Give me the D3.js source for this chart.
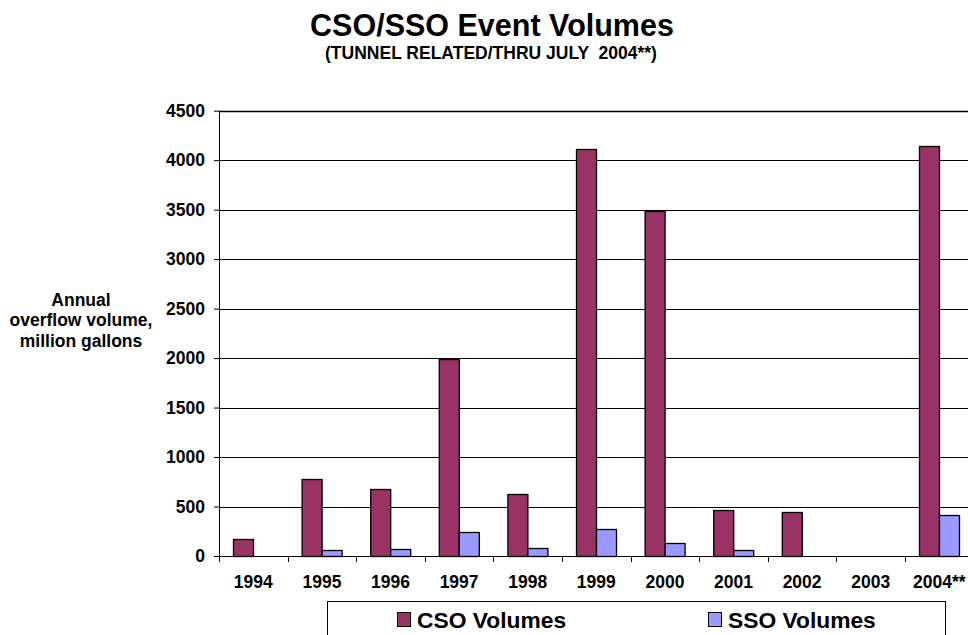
<!DOCTYPE html>
<html>
<head>
<meta charset="utf-8">
<script src="https://cdn.jsdelivr.net/npm/d3@7"></script>
<style>
  html, body { margin: 0; padding: 0; background: #fff; }
  svg { display: block; font-family: "Liberation Sans", Arial, sans-serif; font-weight: bold; }
</style>
</head>
<body>
<svg id="chart" width="968" height="635"></svg>
<script>
// ---- data ----
const categories = ["1994","1995","1996","1997","1998","1999","2000","2001","2002","2003","2004**"];
const csoVolumes = [170, 775, 675, 1990, 630, 4110, 3490, 465, 440, 0, 4145];
const ssoVolumes = [0, 60, 68, 245, 80, 273, 128, 58, 0, 0, 418];
const seriesNames = ["CSO Volumes", "SSO Volumes"];
const yTicks = [0, 500, 1000, 1500, 2000, 2500, 3000, 3500, 4000, 4500];
const titleText = "CSO/SSO Event Volumes";
const subtitleText = "(TUNNEL RELATED/THRU JULY  2004**)";
const yLabelLines = ["Annual", "overflow volume,", "million gallons"];

// ---- layout ----
const plot = { left: 219, right: 973.6, top: 110.7, bottom: 556 };
const colors = { "CSO Volumes": "#993366", "SSO Volumes": "#9999FF" };

const svg = d3.select("#chart");
svg.append("rect").attr("width", 968).attr("height", 635).attr("fill", "#fff");

const x0 = d3.scaleBand().domain(categories).range([plot.left, plot.right]).padding(0);
const x1 = d3.scaleBand().domain(seriesNames).range([0, x0.bandwidth()]).paddingInner(0).paddingOuter(0.715);
const y = d3.scaleLinear().domain([0, 4500]).range([plot.bottom, plot.top]);

// gridlines
svg.append("g").selectAll("line").data(yTicks.filter(d => d > 0)).join("line")
  .attr("x1", plot.left).attr("x2", plot.right)
  .attr("y1", d => Math.round(y(d)) + 0.5).attr("y2", d => Math.round(y(d)) + 0.5)
  .attr("stroke", "#000").attr("stroke-width", d => d === 4500 ? 1.5 : 1);

// bars
const rows = categories.map((c, i) => ({ cat: c, values: [
  { key: "CSO Volumes", v: csoVolumes[i] },
  { key: "SSO Volumes", v: ssoVolumes[i] }
]}));
const groups = svg.append("g").selectAll("g").data(rows).join("g")
  .attr("transform", d => `translate(${x0(d.cat)},0)`);
groups.selectAll("rect").data(d => d.values.filter(e => e.v > 0)).join("rect")
  .attr("x", d => Math.round(x1(d.key)) + 0.5)
  .attr("y", d => Math.round(y(d.v)) + 0.5)
  .attr("width", Math.round(x1.bandwidth()))
  .attr("height", d => Math.round(y(0)) - Math.round(y(d.v)))
  .attr("fill", d => colors[d.key])
  .attr("stroke", "#000").attr("stroke-width", 1.3);

// y axis
const yAxis = svg.append("g").attr("transform", `translate(${plot.left},0)`)
  .call(d3.axisLeft(y).tickValues(yTicks).tickSize(5).tickPadding(9).tickFormat(d3.format("d")));
yAxis.select(".domain").attr("stroke", "#000").attr("d", `M0.5,${plot.top}V${plot.bottom}`);
yAxis.selectAll(".tick line").attr("stroke", "#000");
yAxis.selectAll("text").attr("font-size", 17.5).attr("font-weight", "bold")
  .attr("font-family", "Liberation Sans, Arial, sans-serif").attr("fill", "#000");

// x axis
const xAxis = svg.append("g").attr("transform", `translate(0,${plot.bottom})`)
  .call(d3.axisBottom(x0).tickSize(0).tickPadding(20));
xAxis.select(".domain").attr("stroke", "#000").attr("d", `M${plot.left},0.5H${plot.right}`);
xAxis.selectAll("text").attr("font-size", 17.5).attr("font-weight", "bold")
  .attr("font-family", "Liberation Sans, Arial, sans-serif").attr("fill", "#000");
const boundaries = categories.map(c => x0(c)).concat([plot.right]);
xAxis.append("g").selectAll("line").data(boundaries).join("line")
  .attr("x1", d => Math.round(d) + 0.5).attr("x2", d => Math.round(d) + 0.5)
  .attr("y1", 0).attr("y2", 6).attr("stroke", "#000");

// title
svg.append("text").attr("x", 492).attr("y", 36).attr("text-anchor", "middle")
  .attr("font-size", 30.5).text(titleText);
svg.append("text").attr("x", 491).attr("y", 58.5).attr("text-anchor", "middle")
  .style("white-space", "pre")
  .attr("font-size", 17.5).text(subtitleText);

// y label
svg.append("g").selectAll("text").data(yLabelLines).join("text")
  .attr("x", 81).attr("y", (d, i) => 306 + i * 20.3).attr("text-anchor", "middle")
  .attr("font-size", 17.5).text(d => d);

// legend
const legend = svg.append("g");
legend.append("rect").attr("x", 327.5).attr("y", 601.5).attr("width", 618).attr("height", 60)
  .attr("fill", "#fff").attr("stroke", "#000").attr("stroke-width", 1);
const legendX = [397, 708];
const leg = legend.selectAll("g").data(seriesNames).join("g")
  .attr("transform", (d, i) => `translate(${legendX[i]},0)`);
leg.append("rect").attr("x", 0.5).attr("y", 612.5).attr("width", 13).attr("height", 14)
  .attr("fill", d => colors[d]).attr("stroke", "#000").attr("stroke-width", 1);
leg.append("text").attr("x", 20).attr("y", 628).attr("font-size", 22.8).text(d => d);
</script>
</body>
</html>
